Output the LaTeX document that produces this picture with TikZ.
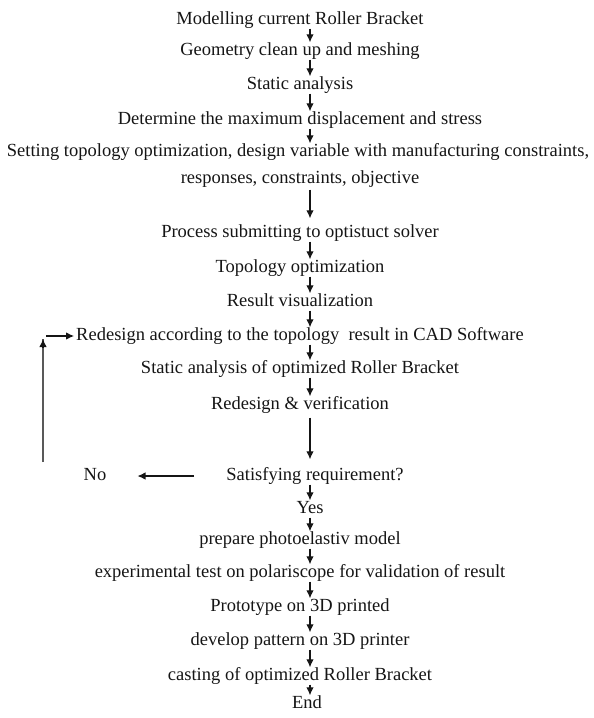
\documentclass[tikz,border=0pt]{standalone}
\usepackage{fontspec}
\setmainfont{Liberation Serif}
\usetikzlibrary{arrows.meta}
\definecolor{ink}{HTML}{151515}
\tikzset{
  lbl/.style={font=\fontsize{18.5}{22}\selectfont, text=ink, inner sep=0pt, text height=13pt, text depth=4pt, anchor=center},
  tip/.style={-{Latex[length=8pt,width=7.5pt]}},
  arr/.style={draw=ink, line width=1.1pt, tip},
  loopline/.style={draw=gray!70!black, line width=1.5pt},
}
\begin{document}
\begin{tikzpicture}[x=1pt,y=1pt]
\useasboundingbox (0,0) rectangle (594,-718);
\coordinate (ax) at (310,0);
\node[lbl] (n1)  at (300,-20)  {Modelling current Roller Bracket};
\node[lbl] (n2)  at (300,-51)  {Geometry clean up and meshing};
\node[lbl] (n3)  at (300,-85)  {Static analysis};
\node[lbl] (n4)  at (300,-120) {Determine the maximum displacement and stress};
\node[lbl] (n5a) at (298,-152) {Setting topology optimization, design variable with manufacturing constraints,};
\node[lbl] (n5b) at (300,-179) {responses, constraints, objective};
\node[lbl] (n6)  at (300,-233) {Process submitting to optistuct solver};
\node[lbl] (n7)  at (300,-268) {Topology optimization};
\node[lbl] (n8)  at (300,-302) {Result visualization};
\node[lbl] (n9)  at (300,-336) {Redesign according to the topology\ \ result in CAD Software};
\node[lbl] (n10) at (300,-369) {Static analysis of optimized Roller Bracket};
\node[lbl] (n11) at (300,-405) {Redesign \& verification};
\node[lbl] (n12) at (315,-476) {Satisfying requirement?};
\node[lbl] (no)  at (95,-476)  {No};
\node[lbl] (n13) at (310,-509) {Yes};
\node[lbl] (n14) at (300,-540) {prepare photoelastiv model};
\node[lbl] (n15) at (300,-573) {experimental test on polariscope for validation of result};
\node[lbl] (n16) at (300,-607) {Prototype on 3D printed};
\node[lbl] (n17) at (300,-641) {develop pattern on 3D printer};
\node[lbl] (n18) at (300,-676) {casting of optimized Roller Bracket};
\node[lbl] (n19) at (307,-704) {End};

\foreach \a/\b in {n1/n2,n2/n3,n3/n4,n4/n5a,n6/n7,n7/n8,n8/n9,n9/n10,n10/n11,n12/n13,n13/n14,n14/n15,n15/n16,n16/n17,n17/n18,n18/n19}
  \draw[arr] (\a.south -| ax) -- (\b.north -| ax);
\draw[arr, shorten <=2pt, shorten >=6pt] (n5b.south -| ax) -- (n6.north -| ax);
\draw[arr, shorten <=4pt, shorten >=8pt] (n11.south -| ax) -- (n12.north -| ax);
\draw[arr, shorten <=32pt, shorten >=31pt] (n12.west) -- (no.east);

\coordinate (lb) at (43,-462);
\coordinate (lt) at (43,-339);
\coordinate (lh) at (46,-336);
\draw[loopline] (lb) -- (lt);
\draw[arr] ([yshift=-9pt]lt) -- (lt);
\draw[arr, shorten >=2pt] (lh) -- (n9.west);
\end{tikzpicture}
\end{document}
